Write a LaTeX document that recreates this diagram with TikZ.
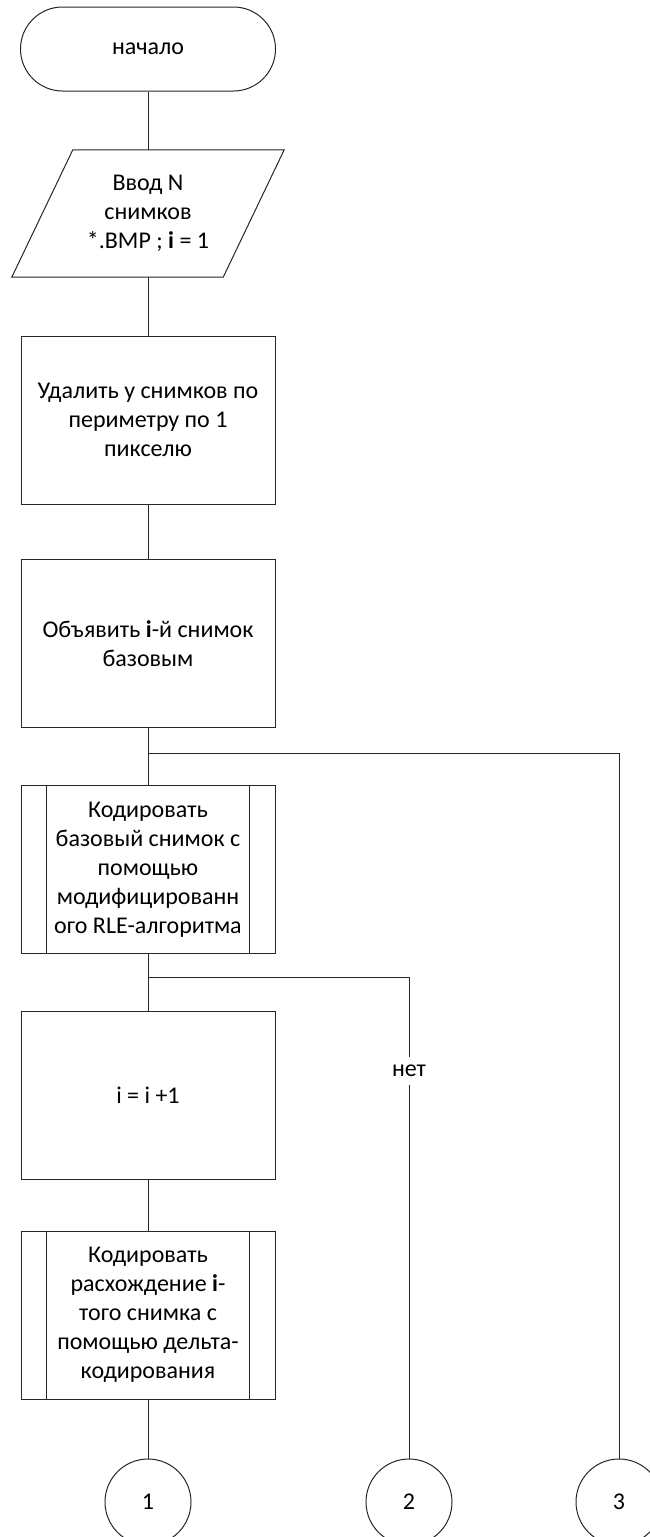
\documentclass[tikz,border=0pt]{standalone}
\usepackage{fontspec}
\setmainfont{Carlito}
\usetikzlibrary{calc}
\colorlet{ln}{black!85}
\begin{document}
\begin{tikzpicture}[x=1pt,y=-1pt,
  txt/.style={font=\fontsize{24}{29}\selectfont, align=center, text=black},
  term/.style={txt, draw=ln, line width=1pt, rounded corners=42pt,
    minimum width=255pt, minimum height=84pt, inner sep=0pt},
  proc/.style={txt, draw=ln, line width=1pt,
    minimum width=254pt, minimum height=168pt, inner sep=0pt},
  io/.style={txt, minimum width=211pt, minimum height=127pt, inner sep=0pt},
  conn/.style={txt, draw=ln, line width=1pt, circle, minimum size=86pt, inner sep=0pt},
  link/.style={draw=ln, line width=1pt},
  lbl/.style={txt, fill=white, inner xsep=3pt, inner ysep=8pt},
]
\useasboundingbox (0,0) rectangle (650,1537);
\clip (0,0) rectangle (650,1537);

% terminal and input
\node[term] (start) at (148,49) {\raisebox{-2pt}{начало}};
\node[io]   (inp)   at (148,213.5) {Ввод N\\снимков\\*.BMP ; \textbf{i} = 1};
\draw[link] ($(inp.north west)+(30.5,0)$) -- ($(inp.north east)+(30.5,0)$)
  -- ($(inp.south east)+(-30.5,0)$) -- ($(inp.south west)+(-30.5,0)$) -- cycle;

% processes
\node[proc] (r1) at (148,420)   {Удалить у снимков по\\периметру по 1\\пикселю};
\node[proc] (r2) at (148,643.5) {Объявить \textbf{i}-й снимок\\базовым};
\node[proc] (s1) at (148,869.5) {Кодировать\\базовый снимок с\\помощью\\модифицированн\\ого RLE-алгоритма};
\node[proc] (r3) at (148,1095)  {i = i +1};
\node[proc] (s2) at (148,1315)  {Кодировать\\расхождение \textbf{i}-\\того снимка с\\помощью дельта-\\кодирования};

% inner bars of the predefined-process blocks
\foreach \s in {s1,s2} {
  \draw[link] ($(\s.north west)+(26,0)$) -- ($(\s.south west)+(26,0)$);
  \draw[link] ($(\s.north east)+(-26,0)$) -- ($(\s.south east)+(-26,0)$);
}

% connectors to other pages
\node[conn] (c1) at (148,1502) {1};
\node[conn] (c2) at (409,1502) {2};
\node[conn] (c3) at (619,1502) {3};

% flow lines
\coordinate (b1) at (148,753);
\coordinate (b2) at (148,977);
\draw[link] (start) -- (inp);
\draw[link] (inp) -- (r1);
\draw[link] (r1) -- (r2);
\draw[link] (r2) -- (s1);
\draw[link] (s1) -- (r3);
\draw[link] (r3) -- (s2);
\draw[link] (s2) -- (c1);
\draw[link] (b1) -| (c3.north);
\draw[link] (b2) -| (c2.north);
\node[lbl] (no) at (409,1071) {нет};
\end{tikzpicture}
\end{document}
